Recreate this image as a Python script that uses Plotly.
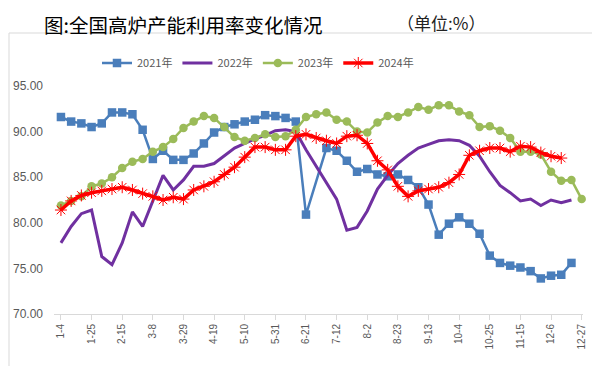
import datetime as dt
import plotly.graph_objects as go

# Weekly categories (1-4 ... 12-27)
start = dt.date(2021, 1, 4)
categories = [f"{(start + dt.timedelta(weeks=i)).month}-{(start + dt.timedelta(weeks=i)).day}" for i in range(52)]
tick_labels = categories[::3]

y2021 = [91.6, 91.1, 90.9, 90.5, 90.9, 92.1, 92.1, 91.9, 90.2, 87.0,
         87.9, 86.9, 86.9, 87.6, 88.7, 89.9, 90.5, 90.8, 91.1, 91.3,
         91.8, 91.7, 91.5, 91.1, 80.9, None, 88.2, 87.9, 86.8, 85.6,
         85.9, 85.3, 85.1, 85.3, 84.7, 83.9, 82.0, 78.7, 79.9, 80.6,
         79.9, 78.8, 76.4, 75.6, 75.3, 75.1, 74.7, 73.9, 74.2, 74.3,
         75.6]
y2022 = [77.8, 79.6, 81.0, 81.4, 76.3, 75.4, 77.8, 81.2, 79.6, 82.4,
         85.2, 83.6, 84.7, 86.2, 86.2, 86.5, 87.4, 88.2, 88.7, 89.2,
         89.6, 90.1, 90.2, 90.0, 88.0, 86.2, 84.3, 82.6, 79.2, 79.5,
         81.3, 83.7, 85.2, 86.5, 87.4, 88.2, 88.6, 89.0, 89.1, 89.0,
         88.5, 87.3, 85.6, 84.1, 83.3, 82.4, 82.6, 81.9, 82.5, 82.2,
         82.5]
y2023 = [81.9, 82.4, 82.9, 84.0, 84.3, 85.0, 86.0, 86.7, 87.0, 87.8,
         88.3, 89.2, 90.4, 91.1, 91.7, 91.5, 90.5, 89.4, 89.0, 89.3,
         89.7, 89.4, 89.5, 90.2, 91.6, 91.9, 92.1, 91.3, 91.1, 90.0,
         89.9, 91.0, 91.7, 91.6, 92.1, 92.7, 92.4, 92.9, 92.9, 92.2,
         91.8, 90.5, 90.6, 90.1, 89.3, 87.8, 87.8, 87.5, 85.6, 84.6,
         84.7, 82.6]
y2024 = [81.4, 82.4, 83.0, 83.3, 83.5, 83.7, 83.9, 83.6, 83.2, 82.9,
         82.5, 82.8, 82.6, 83.6, 84.0, 84.5, 85.3, 86.1, 87.2, 88.3,
         88.3, 88.0, 88.0, 89.5, 89.7, 89.3, 89.0, 88.7, 89.5, 89.6,
         88.7, 86.8, 85.8, 84.0, 82.9, 83.5, 83.7, 83.9, 84.4, 85.3,
         87.4, 87.9, 88.2, 88.2, 87.8, 88.4, 88.3, 87.7, 87.3, 87.1]

series_names = ["2021年", "2022年", "2023年", "2024年"]
y_ticks = [70, 75, 80, 85, 90, 95]

fig = go.Figure()
fig.add_trace(go.Scatter(x=categories[:len(y2021)], y=y2021, name=series_names[0],
                         mode="lines+markers", connectgaps=True, cliponaxis=False,
                         line=dict(color="#4A7EBB", width=2.5),
                         marker=dict(symbol="square", size=8.5, color="#4A7EBB")))
fig.add_trace(go.Scatter(x=categories[:len(y2022)], y=y2022, name=series_names[1],
                         mode="lines", cliponaxis=False,
                         line=dict(color="#7030A0", width=3)))
fig.add_trace(go.Scatter(x=categories[:len(y2023)], y=y2023, name=series_names[2],
                         mode="lines+markers", cliponaxis=False,
                         line=dict(color="#9BBB59", width=2.5),
                         marker=dict(symbol="circle", size=8.5, color="#9BBB59")))
fig.add_trace(go.Scatter(x=categories[:len(y2024)], y=y2024, name=series_names[3],
                         mode="lines+markers", cliponaxis=False,
                         line=dict(color="#FF0000", width=3.5),
                         marker=dict(symbol="asterisk", size=10, color="#FF0000",
                                     line=dict(color="#FF0000", width=1))))

# page offset of the figure (browser default body margin)
OFF = 8
W, H = 600, 366
# plot area in page pixels: x 54..583, y 86..314
L = 54 - OFF
T = 86 - OFF
R = W - (583 - OFF)
B = H - (314 - OFF)
pw, ph = W - L - R, H - T - B

def px(x_page):
    return (x_page - OFF - L) / pw

def py(y_page):
    return (H - B - (y_page - OFF)) / ph

fig.update_layout(
    width=W, height=H, autosize=False,
    margin=dict(l=L, r=R, t=T, b=B, autoexpand=False),
    paper_bgcolor="white", plot_bgcolor="white",
    font=dict(family="Noto Sans CJK SC, Noto Sans, sans-serif", color="#595959", size=11),
    showlegend=True,
    legend=dict(orientation="h", x=px(258), xanchor="center", y=py(63), yanchor="middle",
                font=dict(size=11, color="#595959"), bgcolor="rgba(0,0,0,0)",
                itemwidth=30, tracegroupgap=0),
    xaxis=dict(type="category", range=[-0.68, 51.13], tickmode="array",
               tickvals=tick_labels, ticktext=tick_labels, tickangle=-90,
               showline=True, linecolor="#D9D9D9", linewidth=1,
               ticks="outside", ticklen=5, tickcolor="#D9D9D9",
               showgrid=False, zeroline=False,
               tickfont=dict(family="Liberation Sans, Arial, sans-serif", size=10, color="#595959")),
    yaxis=dict(range=[70, 95], tickmode="array", tickvals=y_ticks, tickformat=".2f",
               showline=False, showgrid=False, zeroline=False, ticks="",
               ticklabelstandoff=10,
               tickfont=dict(family="Liberation Sans, Arial, sans-serif", size=12, color="#595959")),
    shapes=[dict(type="rect", xref="paper", yref="paper",
                 x0=px(9), x1=px(605), y0=py(380), y1=py(33),
                 line=dict(color="#D9D9D9", width=1), fillcolor="rgba(0,0,0,0)", layer="below")],
    annotations=[
        dict(text="图:全国高炉产能利用率变化情况", xref="paper", yref="paper",
             x=px(43), y=py(8.5), xanchor="left", yanchor="top", showarrow=False,
             borderpad=0,
             font=dict(family="Noto Sans CJK SC", size=19.5, color="#000000")),
        dict(text="（单位:%）", xref="paper", yref="paper",
             x=px(396), y=py(8.5), xanchor="left", yanchor="top", showarrow=False,
             borderpad=0,
             font=dict(family="Noto Sans CJK SC", size=17, color="#222222")),
    ],
)

fig.write_html("out.html")
